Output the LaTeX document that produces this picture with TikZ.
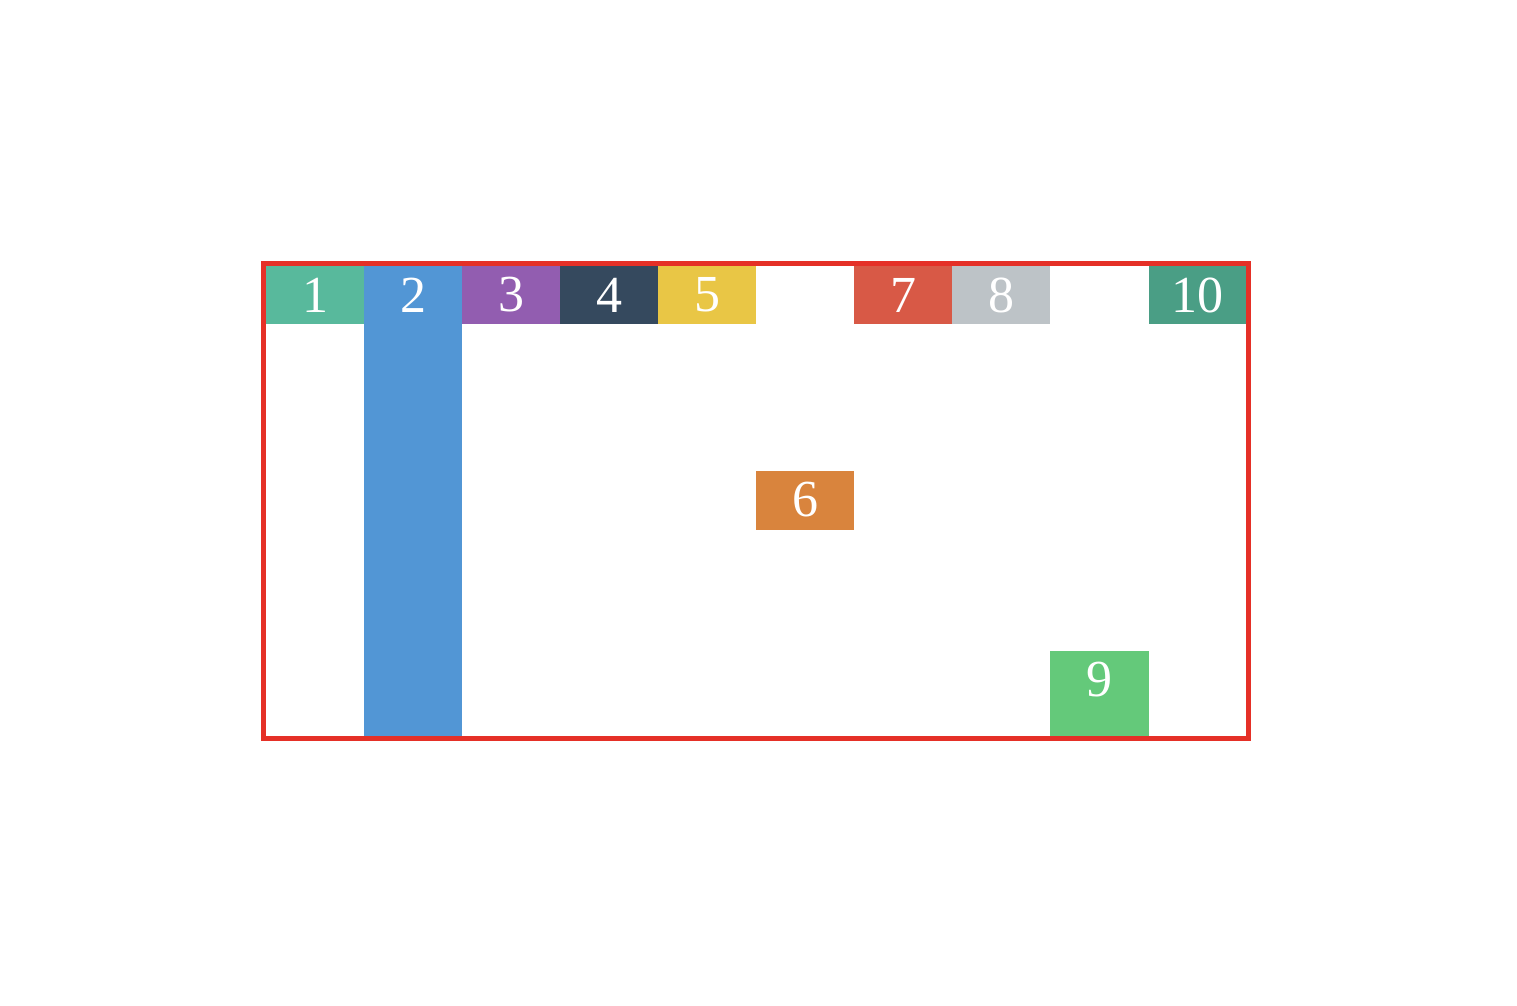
\documentclass[tikz,border=0pt]{standalone}
\usepackage{fontspec}
\setmainfont{Liberation Serif}
\definecolor{cA}{HTML}{58B99C}
\definecolor{cB}{HTML}{5296D5}
\definecolor{cC}{HTML}{925DB0}
\definecolor{cD}{HTML}{35495E}
\definecolor{cE}{HTML}{E9C645}
\definecolor{cF}{HTML}{D9843D}
\definecolor{cG}{HTML}{D85946}
\definecolor{cH}{HTML}{BDC3C7}
\definecolor{cI}{HTML}{64C97A}
\definecolor{cJ}{HTML}{4A9E85}
\definecolor{frame}{HTML}{E53027}
\tikzset{
  cell/.style={inner sep=0pt, outer sep=0pt},
  num/.style={text=white, font=\fontsize{52}{52}\selectfont, inner sep=0pt, anchor=center},
}
\begin{document}
\begin{tikzpicture}[x=1pt,y=-1pt]
\useasboundingbox (0,0) rectangle (1517,1005);
\fill[white] (0,0) rectangle (1517,1005);
% boxes
\fill[cA] (266,266) rectangle (364,324);
\fill[cB] (364,266) rectangle (462,736);
\fill[cC] (462,266) rectangle (560,324);
\fill[cD] (560,266) rectangle (658,324);
\fill[cE] (658,266) rectangle (756,324);
\fill[cF] (756,471) rectangle (854,530);
\fill[cG] (854,266) rectangle (952,324);
\fill[cH] (952,266) rectangle (1050,324);
\fill[cI] (1050,651) rectangle (1149,736);
\fill[cJ] (1149,266) rectangle (1246,324);
% labels
\node[num] (n1) at (315,295) {1};
\node[num] (n2) at (413,295) {2};
\node[num] (n3) at (511,295) {3};
\node[num] (n4) at (609,295) {4};
\node[num] (n5) at (707,295) {5};
\node[num] (n6) at (805,500) {6};
\node[num] (n7) at (903,295) {7};
\node[num] (n8) at (1001,295) {8};
\node[num] (n9) at (1099,680) {9};
\node[num] (n10) at (1197,295) {10};
% frame
\draw[frame, line width=5pt] (263.5,263.5) rectangle (1248.5,738.5);
\end{tikzpicture}
\end{document}
